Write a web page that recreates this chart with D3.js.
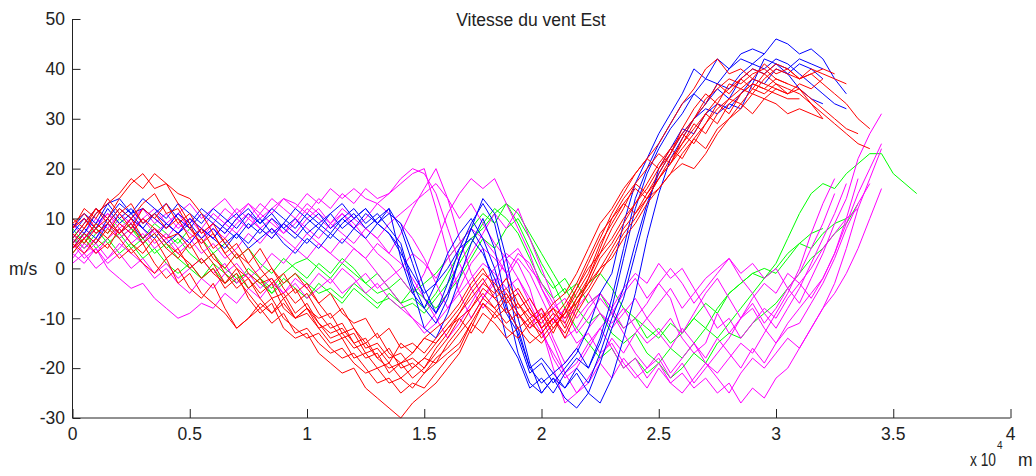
<!DOCTYPE html>
<html>
<head>
    <title>Vitesse du vent Est</title>
</head>
<meta charset="utf-8">
<style type="text/css">
    html, body {
        margin: 0;
        background: #fff;
    }

    text {
        font-family: "Liberation Sans", Arial, sans-serif;
        fill: #222;
    }

    .series {
        fill: none;
        stroke-width: 1;
    }
</style>

<body>
<svg id="wrapper" width="1036" height="476"></svg>

<script type="text/javascript" src="https://d3js.org/d3.v7.min.js"></script>

<script>
    "use strict";

    // one sample every 500 m along the track
    const stepMeters = 500;

    const xTicks = [0, 5000, 10000, 15000, 20000, 25000, 30000, 35000, 40000];
    const yTicks = [-30, -20, -10, 0, 10, 20, 30, 40, 50];

    const redSeries = [
        [6,9,12,10,14,17,19,16,17,13,9,4,1,-3,-1,-6,-9,-7,-12,-14,-13,-17,-19,-21,-20,-24,-26,-28,-30,-27,-25,-23,-20,-17,-12,-7,-9,-6,-10,-8,-12,-9,-11,-6,-2,3,8,12,17,20,23,21,26,30,33,37,35,38,36,39,37,35,36,33,30],
        [5,8,11,13,15,18,16,19,17,15,14,11,7,3,0,-2,-5,-3,-8,-10,-9,-12,-15,-14,-18,-17,-20,-19,-22,-20,-18,-19,-15,-12,-8,-4,-6,-9,-7,-11,-9,-13,-8,-4,1,6,11,15,19,22,25,29,33,36,40,42,39,40,38,41,39,40,38,39,40,39],
        [8,10,7,9,12,10,13,15,11,12,8,5,7,3,5,1,-2,0,-4,-7,-5,-9,-12,-11,-15,-14,-18,-16,-20,-19,-21,-18,-16,-13,-10,-6,-8,-5,-9,-12,-10,-8,-12,-7,-3,2,5,9,13,16,20,23,27,30,34,36,38,37,39,40,38,37,36,34,32,30,28,27],
        [4,6,3,5,2,4,1,-1,2,-3,-1,-5,-7,-9,-12,-10,-8,-11,-9,-13,-12,-15,-17,-16,-19,-21,-20,-23,-22,-24,-21,-19,-17,-15,-11,-13,-9,-12,-14,-11,-13,-10,-14,-9,-5,-1,3,7,10,14,18,21,24,27,31,34,36,38,40,39,41,40,38,39,37,35,33,30,28],
        [7,5,8,6,9,7,10,8,6,7,4,6,2,0,3,-1,-3,-2,-6,-4,-8,-10,-9,-13,-12,-16,-15,-18,-17,-20,-18,-15,-12,-9,-5,-2,-6,-4,-8,-6,-10,-7,-5,-1,4,9,12,16,19,22,20,24,27,25,29,32,34,33,36,35,37,36,35,33,31,29,27,25,24],
        [9,11,8,10,7,9,5,7,4,2,5,1,3,-1,-4,-2,-6,-9,-7,-10,-8,-12,-11,-14,-13,-17,-16,-19,-15,-17,-14,-12,-10,-7,-3,0,-4,-7,-5,-9,-11,-8,-10,-6,-3,0,4,8,11,14,16,19,21,20,23,27,30,32,35,34,33,31,32,31,30],
        [3,6,9,7,11,8,12,10,13,9,11,7,9,5,2,4,0,-3,-1,-5,-3,-7,-10,-8,-12,-15,-13,-17,-19,-18,-20,-17,-14,-10,-13,-9,-11,-14,-12,-15,-13,-10,-7,-3,2,7,10,14,17,15,19,23,28,32,35,33,37,36,38,37,36,35],
        [10,8,12,9,7,10,6,8,5,3,1,-2,0,-4,-2,-5,-8,-6,-10,-12,-14,-13,-16,-18,-17,-20,-23,-22,-25,-23,-24,-21,-18,-16,-11,-7,-10,-8,-12,-10,-14,-11,-9,-5,-1,5,9,13,11,15,18,22,25,29,27,31,34,36,35,38,40,39,38,40,39,38,37],
        [5,3,6,4,8,5,3,6,2,4,0,2,-1,-3,0,-4,-2,-6,-5,-9,-7,-11,-13,-12,-15,-18,-17,-21,-19,-22,-20,-16,-13,-9,-6,-3,-5,-2,-7,-10,-8,-12,-9,-4,0,3,6,10,13,17,21,24,22,26,29,33,31,35,37,36,38,37],
        [8,12,10,14,11,13,9,11,8,10,6,8,4,6,3,1,4,0,-3,-1,-4,-7,-5,-9,-11,-10,-14,-12,-16,-15,-17,-14,-11,-8,-4,-1,-3,-6,-4,-8,-12,-10,-13,-8,-2,4,10,13,16,14,18,21,25,28,31,29,33,35,37,36,35,34,34],
        [4,7,5,8,6,3,5,1,-2,0,-4,-6,-3,-8,-12,-10,-7,-9,-6,-10,-8,-11,-14,-13,-16,-15,-18,-20,-19,-17,-14,-15,-12,-10,-8,-5,-8,-11,-9,-13,-15,-12,-9,-7,-4,0,2,6,9,13,16,19,23,26,24,28,30,33,31,34,36,35,37,36,38]
    ];

    const blueSeries = [
        [6,9,12,10,13,11,14,12,10,13,11,9,12,10,8,11,9,12,10,8,11,9,7,10,8,11,9,12,8,1,-6,-9,-3,4,9,13,9,-1,-14,-21,-19,-23,-20,-17,-12,-5,-1,9,17,22,27,31,35,40,38,42,40,43,44,43,46,45,43,44,42,38,35],
        [9,7,11,13,10,12,9,11,13,10,8,11,9,7,10,12,9,11,8,10,7,9,11,8,10,12,9,11,9,3,-4,-9,-5,2,8,4,-4,-14,-18,-24,-22,-25,-21,-18,-20,-15,-8,2,12,19,24,28,31,35,33,37,36,39,41,40,42,41,39,37,35,33,32],
        [5,8,6,10,7,9,6,8,5,7,9,6,8,5,7,4,6,8,5,3,6,4,7,5,8,6,9,7,4,-4,-12,-14,-9,-2,5,10,4,-7,-17,-23,-25,-22,-26,-28,-25,-27,-22,-14,-5,6,15,22,26,30,33,36,34,38,40,39,41,40,42,41,40],
        [8,11,9,13,14,11,12,10,8,11,9,12,10,8,6,9,7,10,8,6,9,11,8,10,12,9,11,8,5,-3,-8,-11,-6,2,8,14,11,2,-10,-19,-25,-22,-24,-21,-25,-19,-12,-6,3,12,20,24,28,27,31,33,32,35,38,37,40,39,41,40,38],
        [4,7,5,9,12,10,8,11,9,7,10,8,6,9,11,8,10,7,9,12,10,8,11,13,10,12,9,7,3,-1,-5,-3,0,4,6,3,-2,-9,-13,-20,-23,-21,-24,-20,-23,-17,-10,-4,5,13,19,23,27,30,32,31,33,32,37,42,41,39,36,34,33],
        [7,10,8,12,9,11,8,6,9,7,5,8,6,4,7,5,8,6,9,7,5,8,6,9,11,8,10,12,2,-5,-8,-3,3,7,10,6,0,-8,-12,-20,-18,-21,-19,-16,-20,-14,-6,4,14,20,25,29,33,35,38,37,40,42,41,43]
    ];

    const greenSeries = [
        [5,7,4,6,3,5,2,4,1,-1,1,-2,0,-3,-1,-4,-2,-5,-3,-1,-3,-5,-4,-6,-3,-5,-7,-6,-8,-7,-9,-6,-3,1,5,9,12,10,7,2,-3,-6,-4,-8,-11,-9,-13,-15,-13,-17,-19,-16,-18,-15,-12,-14,-11,-8,-5,-2,1,6,11,15,17,16,19,21,23,23,19,17,15],
        [3,6,8,5,7,4,6,3,5,2,0,-2,1,-1,-3,0,-2,-4,-1,1,2,0,-2,1,-1,-3,-5,-4,-7,-6,-8,-5,-1,3,6,8,11,13,9,4,-1,-4,-2,-6,-3,-1,-4,-8,-10,-12,-14,-11,-13,-10,-12,-8,-5,-3,-1,0,-1,2,5,7,8],
        [6,4,7,9,6,8,5,7,4,6,3,1,3,0,-2,-1,-3,-5,-2,-4,-6,-3,-5,-7,-4,-6,-8,-5,-7,-4,-6,-8,-5,-2,2,6,4,8,10,6,1,-3,-8,-12,-15,-18,-16,-20,-18,-21,-19,-22,-20,-17,-19,-15,-13,-14,-11,-9,-7,-4,-1,2,4,7,9,13],
        [8,5,9,7,10,8,6,9,7,5,8,6,3,5,2,4,1,-1,2,0,-2,1,-1,2,0,-3,-1,-4,-2,-5,-3,-1,2,5,8,11,9,13,11,7,3,-1,-5,-3,-7,-5,-9,-12,-10,-14,-12,-15,-13,-10,-7,-9,-5,-3,-1,-2,0,3,5,4,7,9,10]
    ];

    const magentaSeries = [
        [4,7,10,8,11,9,12,10,8,11,13,10,12,14,11,13,10,12,14,13,11,14,12,15,13,16,14,15,17,19,20,12,3,-5,-10,-6,-2,-5,-9,-12,-8,-14,-19,-16,-12,-9,-11,-8,-12,-15,-13,-10,-14,-17,-15,-9,-13,-10,-7,-11,-8,-4,-7,-2,3,9,14,22,27,31],
        [6,3,5,2,4,7,5,8,6,9,7,5,8,6,9,11,8,10,7,9,12,10,8,11,9,6,3,1,-2,-5,-1,5,11,15,18,16,18,13,8,3,-4,-9,-14,-12,-8,-5,-8,-12,-10,-7,-3,-6,-13,-9,-5,-2,-6,-10,-8,-12,-15,-11,-8,-5,-2,3,9,15,20,25],
        [3,1,4,0,-2,-4,-3,-6,-8,-10,-9,-7,-8,-5,-7,-4,-6,-3,-5,-2,-4,-1,-3,0,-2,-5,-3,-6,-8,-10,-13,-11,-8,-5,-2,1,-1,-4,-2,-6,-10,-15,-21,-25,-23,-19,-22,-18,-21,-24,-20,-23,-25,-22,-19,-21,-18,-15,-17,-13,-9,-5,0,7,13,18],
        [8,10,7,9,6,8,10,7,9,11,8,6,9,7,10,8,11,9,7,10,8,6,9,7,5,8,6,3,7,12,16,20,14,6,-1,-6,-3,2,-2,-7,-12,-18,-22,-20,-16,-12,-9,-13,-17,-20,-18,-22,-19,-23,-20,-17,-14,-10,-6,-3,-5,-1,-3,-6,-2,3,10,18],
        [5,2,4,1,3,0,2,-1,1,-2,0,2,-1,1,-3,-1,-4,-2,-5,-3,-6,-4,-2,-5,-3,-1,-4,-2,0,3,1,-2,2,5,8,6,3,-1,-5,-9,-13,-17,-21,-19,-15,-12,-16,-20,-18,-22,-19,-23,-21,-24,-22,-25,-23,-27,-24,-26,-22,-20,-16,-12,-8,-3,4,12,18,24],
        [2,5,3,6,8,5,7,4,6,3,5,8,6,9,7,10,8,6,9,7,10,12,9,11,8,10,13,11,9,6,2,-3,-8,-4,1,4,2,-1,3,1,-4,-8,-6,-10,-7,-5,-8,-4,-1,-3,1,-2,0,-4,-8,-12,-10,-14,-11,-8,-10,-6,-3,0,4,7,10,12],
        [7,4,6,9,7,10,8,5,7,4,6,3,5,2,4,7,5,8,6,4,7,5,3,6,4,2,5,3,1,-2,-6,-10,-14,-11,-7,-3,0,3,1,-4,-12,-20,-27,-25,-22,-18,-14,-17,-13,-10,-13,-16,-12,-15,-18,-14,-17,-20,-16,-19,-15,-12,-11,-7,-3,2,8,13,17],
        [4,6,9,11,8,10,12,9,11,8,10,7,9,12,10,13,11,14,12,10,13,11,9,12,10,8,6,9,11,13,15,17,14,10,13,9,5,2,4,0,-3,-7,-10,-8,-5,-9,-12,-9,-6,-10,-7,-4,-8,-5,-2,0,2,-1,1,-2,0,-4,-1,4,9,15],
        [1,3,0,2,5,3,1,-2,0,-3,-5,-2,-4,-1,1,-2,0,3,1,4,2,5,3,1,4,2,-1,-4,-7,-10,-12,-9,-5,-1,3,7,11,8,12,6,0,-6,-11,-15,-13,-17,-15,-19,-22,-20,-17,-21,-18,-15,-19,-22,-25,-21,-18,-20,-17,-14,-16,-12,-8,-5,-1,4,10,16],
        [9,6,8,11,9,7,10,12,9,7,10,8,11,9,12,10,13,11,14,12,15,13,16,14,16,14,13,15,18,20,19,15,8,1,-4,-8,-5,-2,2,-1,-6,-11,-8,-13,-10,-6,-9,-5,-2,-6,-3,0,-3,-7,-4,-1,2,-2,-5,-9,-12,-8,-4,1,6,11,17]
    ];

    const svg = d3.select("#wrapper"),
        plotLeft = 72.5,
        plotRight = 1010.5,
        plotTop = 19,
        plotBottom = 418;

    const x = d3.scaleLinear().domain([0, 40000]).range([plotLeft, plotRight]),
        y = d3.scaleLinear().domain([-30, 50]).range([plotBottom, plotTop]);

    const line = d3.line()
        .x((d, i) => x(i * stepMeters))
        .y(d => y(d));

    // drawing order: green, magenta, blue, red on top
    const groups = [
        {color: "#00ff00", series: greenSeries},
        {color: "#ff00ff", series: magentaSeries},
        {color: "#0000ff", series: blueSeries},
        {color: "#ff0000", series: redSeries}
    ];

    const plot = svg.append("g");
    groups.forEach(grp => {
        plot.append("g")
            .attr("stroke", grp.color)
            .selectAll("path")
            .data(grp.series)
            .enter()
            .append("path")
            .attr("class", "series")
            .attr("d", line);
    });

    // axes (ticks point inward, like matlab)
    const xAxis = svg.append("g")
        .attr("transform", "translate(0," + plotBottom + ")")
        .call(d3.axisTop(x).tickValues(xTicks).tickSize(9).tickFormat(""));
    xAxis.select(".domain").attr("d", "M" + plotLeft + ",0H" + plotRight);

    const yAxis = svg.append("g")
        .attr("transform", "translate(" + plotLeft + ",0)")
        .call(d3.axisRight(y).tickValues(yTicks).tickSize(8).tickFormat(""));
    yAxis.select(".domain").attr("d", "M0," + plotTop + "V" + plotBottom);

    svg.selectAll(".domain, .tick line").attr("stroke", "#222");

    svg.append("g").selectAll("text")
        .data(xTicks)
        .enter()
        .append("text")
        .attr("x", d => x(d))
        .attr("y", 440)
        .attr("text-anchor", "middle")
        .style("font-size", "17.5px")
        .text(d => d / 10000);

    svg.append("g").selectAll("text")
        .data(yTicks)
        .enter()
        .append("text")
        .attr("x", 65)
        .attr("y", d => y(d))
        .attr("dy", "0.36em")
        .attr("text-anchor", "end")
        .style("font-size", "17.5px")
        .text(d => d);

    svg.append("text")
        .attr("x", 531)
        .attr("y", 26)
        .attr("text-anchor", "middle")
        .style("font-size", "17.5px")
        .text("Vitesse du vent Est");

    svg.append("text")
        .attr("x", 9)
        .attr("y", 275)
        .style("font-size", "17.5px")
        .text("m/s");

    // exponent label under the x axis: "x 10^4 m"
    svg.append("text")
        .attr("x", 970)
        .attr("y", 466)
        .attr("textLength", 26)
        .attr("lengthAdjust", "spacingAndGlyphs")
        .style("font-size", "17.5px")
        .text("x 10");
    svg.append("text")
        .attr("x", 997)
        .attr("y", 449)
        .style("font-size", "10px")
        .text("4");
    svg.append("text")
        .attr("x", 1018)
        .attr("y", 466)
        .style("font-size", "17.5px")
        .text("m");
</script>
</body>
</html>
